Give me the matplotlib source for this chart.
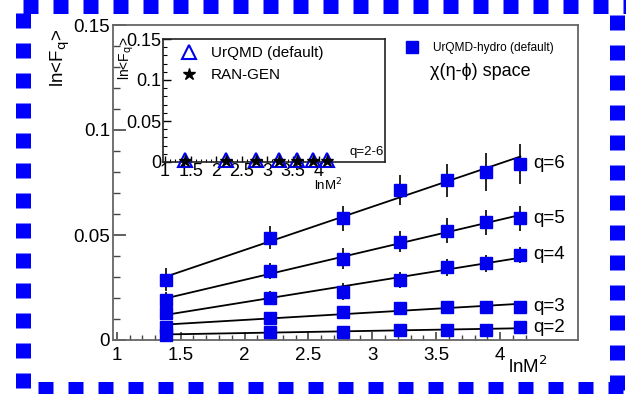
import matplotlib.pyplot as plt
import numpy as np
from matplotlib.lines import Line2D
from matplotlib.ticker import FixedLocator

plt.rcParams["font.family"] = ["Liberation Sans", "DejaVu Sans"]

# lnM^2 bins (M = 2..8)
ln_m2 = [1.386, 2.197, 2.773, 3.219, 3.584, 3.892, 4.159]

# UrQMD-hydro (default), ln<F_q> per order q
lnfq_q2 = [0.0024, 0.0040, 0.0040, 0.0048, 0.0048, 0.0048, 0.0060]
lnfq_q3 = [0.0063, 0.0103, 0.0135, 0.0151, 0.0156, 0.0159, 0.0159]
lnfq_q4 = [0.0127, 0.0202, 0.0230, 0.0286, 0.0346, 0.0365, 0.0405]
lnfq_q5 = [0.0190, 0.0329, 0.0386, 0.0468, 0.0520, 0.0560, 0.0580]
lnfq_q6 = [0.0286, 0.0487, 0.0580, 0.0714, 0.0760, 0.0800, 0.0840]

err_q2 = [0.0005] * 7
err_q3 = [0.0010] * 7
err_q4 = [0.0030, 0.0030, 0.0040, 0.0040, 0.0040, 0.0040, 0.0040]
err_q5 = [0.0040, 0.0040, 0.0050, 0.0050, 0.0060, 0.0060, 0.0060]
err_q6 = [0.0055, 0.0055, 0.0060, 0.0070, 0.0080, 0.0090, 0.0095]

q_labels = ["q=2", "q=3", "q=4", "q=5", "q=6"]

# inset: UrQMD (default) and RAN-GEN, all orders q=2-6 on top of each other
urqmd_default = [0.0020] * 7
ran_gen = [0.0015] * 7

x_ticks = [1, 1.5, 2, 2.5, 3, 3.5, 4]
x_ticklabels = ["1", "1.5", "2", "2.5", "3", "3.5", "4"]
y_ticks = [0, 0.05, 0.1, 0.15]
y_ticklabels = ["0", "0.05", "0.1", "0.15"]

BLUE = "#0000ee"

fig = plt.figure(figsize=(6.26, 3.94), dpi=100)
W, H = 626, 394


def px_box(left, top, right, bottom):
    return [left / W, 1 - bottom / H, (right - left) / W, (bottom - top) / H]


def setup_ticks(a):
    a.xaxis.set_major_locator(FixedLocator(x_ticks))
    a.xaxis.set_minor_locator(FixedLocator(np.arange(1.0, 4.25, 0.1)))
    a.yaxis.set_major_locator(FixedLocator(y_ticks))
    a.yaxis.set_minor_locator(FixedLocator(np.arange(0, 0.151, 0.01)))
    a.set_xticklabels(x_ticklabels)
    a.set_yticklabels(y_ticklabels)


ax = fig.add_axes(px_box(113, 25, 578, 340))
series = [
    (lnfq_q2, err_q2),
    (lnfq_q3, err_q3),
    (lnfq_q4, err_q4),
    (lnfq_q5, err_q5),
    (lnfq_q6, err_q6),
]
x = np.array(ln_m2)
for (vals, errs), lab in zip(series, q_labels):
    vals = np.array(vals)
    errs = np.array(errs)
    coef = np.polyfit(x, vals, 1, w=1 / errs)
    ax.plot(x, np.polyval(coef, x), color="black", lw=1.3, zorder=2)
    ax.errorbar(x, vals, yerr=errs, fmt="s", color=BLUE, ms=9, ecolor="black",
                elinewidth=1.2, capsize=0, zorder=3, clip_on=False)
    ax.text(x[-1] + 0.1, vals[-1], lab, fontsize=13.5, va="center", ha="left")

ax.set_xlim(0.97, 4.61)
ax.set_ylim(0, 0.15)
setup_ticks(ax)
ax.tick_params(axis="both", which="both", direction="in", labelsize=13.5,
               color="#444444")
ax.tick_params(axis="y", which="major", length=9, width=1.2, pad=2)
ax.tick_params(axis="y", which="minor", length=5, width=1.0)
ax.tick_params(axis="x", which="major", length=6, width=1.2, pad=5)
ax.tick_params(axis="x", which="minor", length=3.5, width=1.0)
for sp in ax.spines.values():
    sp.set_color("#666666")
    sp.set_linewidth(1.3)

fig.text(60 / W, 1 - 58 / H, r"ln<F$_{\rm q}$>", rotation=90, fontsize=13.5,
         ha="center", va="center")
fig.text(528 / W, 1 - 366 / H, r"lnM$^2$", fontsize=13.5, ha="center",
         va="center")

hydro = Line2D([], [], marker="s", ls="none", color=BLUE, ms=9)
ax.legend([hydro], ["UrQMD-hydro (default)"], loc="center left",
          bbox_to_anchor=(406 / W, 1 - 48 / H),
          bbox_transform=fig.transFigure, frameon=False, fontsize=8.6,
          handlelength=1.0, handletextpad=1.3, borderpad=0, borderaxespad=0)
fig.text(430 / W, 1 - 72 / H, "\u03c7(\u03b7-\u03d5) space", fontsize=13,
         ha="left", va="center")

# inset
axi = fig.add_axes(px_box(163, 39, 385, 162))
axi.plot(ln_m2, urqmd_default, ls="none", marker="^", ms=10, mfc="none",
         mec=BLUE, mew=1.5, clip_on=False, zorder=3)
axi.plot(ln_m2, ran_gen, ls="none", marker="*", ms=9, color="black",
         clip_on=False, zorder=4)
axi.set_xlim(0.96, 5.3)
axi.set_ylim(0, 0.15)
setup_ticks(axi)
axi.tick_params(axis="both", which="both", direction="in", labelsize=13)
axi.tick_params(axis="y", which="major", length=6, width=1.0, pad=1)
axi.tick_params(axis="y", which="minor", length=3, width=0.8)
axi.tick_params(axis="x", which="major", length=4, width=1.0, pad=1)
axi.tick_params(axis="x", which="minor", length=2.5, width=0.8)
for sp in axi.spines.values():
    sp.set_color("#222222")
    sp.set_linewidth(1.2)
axi.text(0.995, 0.08, "q=2-6", transform=axi.transAxes, fontsize=9.5,
         ha="right", va="center")
fig.text(126 / W, 1 - 58 / H, r"ln<F$_{\rm q}$>", rotation=90, fontsize=10,
         ha="center", va="center")
fig.text(328 / W, 1 - 185 / H, r"lnM$^2$", fontsize=9.5, ha="center",
         va="center")

tri = Line2D([], [], marker="^", ls="none", ms=10, mfc="none", mec=BLUE,
             mew=1.5)
star = Line2D([], [], marker="*", ls="none", ms=9, color="black")
axi.legend([tri, star], ["UrQMD (default)", "RAN-GEN"], loc="upper left",
           bbox_to_anchor=(180 / W, 1 - 46 / H), bbox_transform=fig.transFigure,
           frameon=False, fontsize=11, handlelength=1.2, handletextpad=0.8,
           borderpad=0, borderaxespad=0, labelspacing=0.55)

# dashed blue frame around the figure, one side at a time
frame_sides = [
    ((23, 626), (6, 6)),
    ((22.5, 22.5), (13, 394)),
    ((616.5, 616.5), (15, 394)),
    ((38, 626), (389, 389)),
]
for xs, ys in frame_sides:
    fig.add_artist(Line2D([v / W for v in xs], [1 - v / H for v in ys],
                          transform=fig.transFigure, color="#0000ff", lw=10.8,
                          linestyle=(0, (1, 1)), solid_capstyle="butt",
                          dash_capstyle="butt"))

fig.savefig("out.png", dpi=100)
